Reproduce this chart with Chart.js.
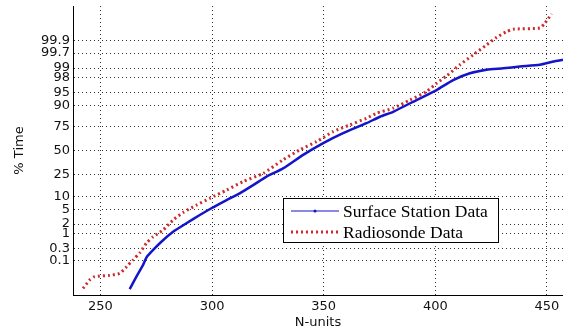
<!DOCTYPE html>
<html>
<head>
<meta charset="utf-8">
<script src="https://cdn.jsdelivr.net/npm/chart.js@4/dist/chart.umd.min.js"></script>
<style>
html, body { margin: 0; padding: 0; background: #fff; }
</style>
</head>
<body>
<canvas id="probChart" width="563" height="331"></canvas>
<script>
// x in N-units, y as standard normal score (probability axis)
const surfaceX = [263.1, 266.1, 269.1, 270.6, 273.6, 277.3, 282.5, 288.5, 294.5, 299.7, 306.5, 312.4, 318.4, 324.4, 331.8, 340.8, 349.8, 358.7, 369.2, 375.2, 381.1, 391.6, 400.6, 408.0, 415.5, 423.0, 430.4, 437.9, 446.8, 452.8, 457.2];
const surfaceZ = [-3.88, -3.53, -3.20, -2.99, -2.78, -2.55, -2.27, -2.03, -1.80, -1.61, -1.38, -1.19, -0.96, -0.72, -0.49, -0.11, 0.22, 0.50, 0.78, 0.96, 1.10, 1.43, 1.71, 1.99, 2.18, 2.28, 2.32, 2.37, 2.42, 2.51, 2.56];

const radioX = [242.2, 245.2, 247.4, 254.2, 258.6, 261.7, 264.6, 267.6, 270.6, 273.6, 278.1, 282.5, 287.0, 293.0, 299.0, 306.5, 313.9, 322.9, 331.8, 339.3, 346.8, 354.2, 361.7, 369.2, 373.7, 381.1, 388.6, 396.1, 400.6, 405.1, 411.0, 417.0, 423.0, 427.5, 431.9, 434.9, 446.8, 449.1, 452.1];
const radioZ = [-3.86, -3.62, -3.53, -3.49, -3.44, -3.25, -3.06, -2.86, -2.59, -2.41, -2.22, -1.94, -1.73, -1.52, -1.33, -1.10, -0.86, -0.63, -0.25, 0.03, 0.26, 0.54, 0.73, 0.92, 1.06, 1.20, 1.43, 1.67, 1.90, 2.11, 2.42, 2.70, 2.98, 3.19, 3.35, 3.42, 3.45, 3.59, 3.85];

const xTicks = [250, 300, 350, 400, 450];
const yTickLabels = ["0.1", "0.3", "1", "2", "5", "10", "25", "50", "75", "90", "95", "98", "99", "99.7", "99.9"];

// inverse normal CDF (Acklam)
function probit(p) {
    const a = [-3.969683028665376e+01, 2.209460984245205e+02, -2.759285104469687e+02, 1.383577518672690e+02, -3.066479806614716e+01, 2.506628277459239e+00];
    const b = [-5.447609879822406e+01, 1.615858368580409e+02, -1.556989798598866e+02, 6.680131188771972e+01, -1.328068155288572e+01];
    const c = [-7.784894002430293e-03, -3.223964580411365e-01, -2.400758277161838e+00, -2.549671010139106e+00, 4.374664141464968e+00, 2.938163982698783e+00];
    const d = [7.784695709041462e-03, 3.224671290700398e-01, 2.445134137142996e+00, 3.754408661907416e+00];
    const pl = 0.02425;
    if (p < pl) {
        const q = Math.sqrt(-2 * Math.log(p));
        return (((((c[0]*q+c[1])*q+c[2])*q+c[3])*q+c[4])*q+c[5]) / ((((d[0]*q+d[1])*q+d[2])*q+d[3])*q+1);
    }
    if (p > 1 - pl) {
        const q = Math.sqrt(-2 * Math.log(1 - p));
        return -(((((c[0]*q+c[1])*q+c[2])*q+c[3])*q+c[4])*q+c[5]) / ((((d[0]*q+d[1])*q+d[2])*q+d[3])*q+1);
    }
    const q = p - 0.5, r = q * q;
    return (((((a[0]*r+a[1])*r+a[2])*r+a[3])*r+a[4])*r+a[5])*q / (((((b[0]*r+b[1])*r+b[2])*r+b[3])*r+b[4])*r+1);
}

const toPoints = (xs, ys) => xs.map((x, i) => ({ x: x, y: ys[i] }));

// legend box sitting inside the plot, like the MATLAB one
const boxLegend = {
    id: "boxLegend",
    afterDraw(chart) {
        const ctx = chart.ctx;
        const l = 283, t = 198, w = 215, h = 44;
        ctx.save();
        ctx.fillStyle = "#fff";
        ctx.fillRect(l, t, w, h);
        ctx.strokeStyle = "#000";
        ctx.lineWidth = 1;
        ctx.setLineDash([]);
        ctx.strokeRect(l + 0.5, t + 0.5, w, h);
        chart.data.datasets.forEach((ds, i) => {
            const y = t + 13 + i * 21;
            ctx.strokeStyle = ds.borderColor;
            ctx.lineWidth = i === 0 ? 1 : ds.borderWidth;
            ctx.setLineDash(ds.borderDash || []);
            ctx.beginPath();
            ctx.moveTo(l + 8, y);
            ctx.lineTo(l + 56, y);
            ctx.stroke();
            if (i === 0) {
                ctx.fillStyle = ds.borderColor;
                ctx.beginPath();
                ctx.arc(l + 32, y, 1.5, 0, Math.PI * 2);
                ctx.fill();
            }
            ctx.setLineDash([]);
            ctx.fillStyle = "#000";
            ctx.font = "17.5px 'Liberation Serif'";
            ctx.textBaseline = "middle";
            ctx.fillText(ds.label, l + 60, y + 1);
        });
        ctx.restore();
    },
};

const ctx = document.getElementById("probChart").getContext("2d");

const chart = new Chart(ctx, {
    type: "line",
    data: {
        datasets: [
            {
                label: "Surface Station Data",
                data: toPoints(surfaceX, surfaceZ),
                borderColor: "#1414c8",
                backgroundColor: "#1414c8",
                borderWidth: 2.5,
                pointRadius: 0,
                fill: false,
                tension: 0.2,
            },
            {
                label: "Radiosonde Data",
                data: toPoints(radioX, radioZ),
                borderColor: "#cc2b2b",
                borderWidth: 3,
                borderDash: [2, 3],
                pointRadius: 0,
                fill: false,
                tension: 0.2,
            },
        ],
    },
    options: {
        responsive: false,
        animation: false,
        layout: { padding: { top: 6, right: 0, bottom: 0, left: 0 } },
        plugins: {
            legend: { display: false },
            tooltip: { enabled: false },
        },
        scales: {
            x: {
                type: "linear",
                min: 237.7,
                max: 457.2,
                afterBuildTicks: (scale) => {
                    scale.ticks = xTicks.map((v) => ({ value: v }));
                },
                afterFit: (scale) => {
                    scale.height = 36;
                    scale.paddingLeft = 0;
                    scale.paddingRight = 0;
                },
                grid: { color: "#333", drawTicks: false },
                border: { display: true, color: "#000", width: 1, dash: [1, 3] },
                ticks: {
                    padding: 4,
                    color: "#111",
                    font: { family: "DejaVu Sans", size: 13 },
                    maxRotation: 0,
                    autoSkip: false,
                },
                title: {
                    display: true,
                    text: "N-units",
                    color: "#111",
                    font: { family: "DejaVu Sans", size: 13 },
                    padding: { top: 0, bottom: 1 },
                },
            },
            y: {
                type: "linear",
                min: -4.045,
                max: 4.07,
                afterBuildTicks: (scale) => {
                    scale.ticks = yTickLabels.map((s) => ({ value: probit(parseFloat(s) / 100) }));
                },
                afterFit: (scale) => {
                    scale.width = 73;
                    scale.paddingTop = 0;
                    scale.paddingBottom = 0;
                },
                grid: { color: "#333", drawTicks: false },
                border: { display: true, color: "#000", width: 1, dash: [1, 3] },
                ticks: {
                    padding: 3,
                    color: "#111",
                    font: { family: "DejaVu Sans", size: 13 },
                    autoSkip: false,
                    callback: (value, index) => yTickLabels[index],
                },
                title: {
                    display: true,
                    text: "% Time",
                    color: "#111",
                    font: { family: "DejaVu Sans", size: 13 },
                    padding: { top: 12, bottom: 0 },
                },
            },
        },
    },
    plugins: [boxLegend],
});
</script>
</body>
</html>
